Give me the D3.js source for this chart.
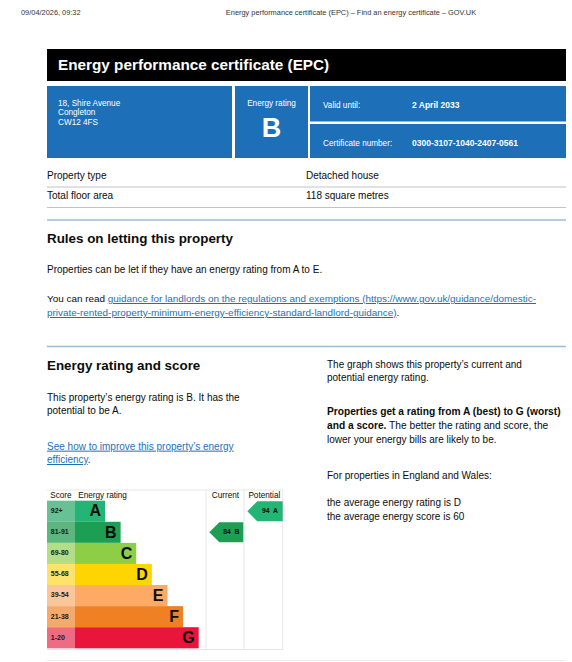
<!DOCTYPE html>
<html>
<head>
<meta charset="utf-8">
<script src="https://cdn.jsdelivr.net/npm/d3@7"></script>
<style>
  body { margin: 0; background: #fff; }
  svg { display: block; font-family: "Liberation Sans", Arial, sans-serif; }
</style>
</head>
<body>
<script>
// rating bands, A (best) to G (worst)
var bands = ["A", "B", "C", "D", "E", "F", "G"];
var scoreRanges = ["92+", "81-91", "69-80", "55-68", "39-54", "21-38", "1-20"];
var currentScore = 84, currentBand = "B";
var potentialScore = 94, potentialBand = "A";

var columns = ["Score", "Energy rating", "Current", "Potential"];
var propertyRows = [["Property type", "Detached house"], ["Total floor area", "118 square metres"]];
var addressLines = ["18, Shire Avenue", "Congleton", "CW12 4FS"];

var width = 572, height = 662;
var svg = d3.select("body").append("svg")
    .attr("width", width)
    .attr("height", height);

function txt(x, y, s, size, opts) {
  opts = opts || {};
  return svg.append("text")
    .attr("x", x).attr("y", y)
    .attr("font-size", size)
    .attr("font-weight", opts.bold ? "bold" : null)
    .attr("fill", opts.fill || "#0b0c0c")
    .attr("text-anchor", opts.anchor || "start")
    .attr("dominant-baseline", "middle")
    .text(s);
}

var body = 10;

// print header
txt(21, 13, "09/04/2026, 09:32", 7.4, {fill: "#333"});
txt(351, 13, "Energy performance certificate (EPC) \u2013 Find an energy certificate \u2013 GOV.UK", 7.4, {fill: "#333", anchor: "middle"});

// title band
svg.append("rect").attr("x", 47).attr("y", 49).attr("width", 519).attr("height", 32).attr("fill", "#000");
txt(58, 66, "Energy performance certificate (EPC)", 15.3, {bold: true, fill: "#fff"});

// blue summary box
var blue = "#1d70b8";
svg.append("rect").attr("x", 47).attr("y", 86).attr("width", 185).attr("height", 72).attr("fill", blue);
svg.append("rect").attr("x", 235).attr("y", 86).attr("width", 73).attr("height", 72).attr("fill", blue);
svg.append("rect").attr("x", 310).attr("y", 86).attr("width", 256).attr("height", 35.5).attr("fill", blue);
svg.append("rect").attr("x", 310).attr("y", 124).attr("width", 256).attr("height", 34).attr("fill", blue);
addressLines.forEach(function(l, i) { txt(58, 103.5 + i * 9.8, l, 8.2, {fill: "#fff"}); });
txt(271.5, 104, "Energy rating", 8.2, {fill: "#fff", anchor: "middle"});
txt(271.5, 130, currentBand, 27, {fill: "#fff", anchor: "middle", bold: true});
txt(323, 106, "Valid until:", 8.2, {fill: "#fff"});
txt(412, 106, "2 April 2033", 8.5, {fill: "#fff", bold: true});
txt(323, 144, "Certificate number:", 8.2, {fill: "#fff"});
txt(412, 144, "0300-3107-1040-2407-0561", 8.5, {fill: "#fff", bold: true});

// property table
propertyRows.forEach(function(r, i) {
  var y = 176 + i * 20.5;
  txt(47, y, r[0], body);
  txt(306, y, r[1], body);
  svg.append("line").attr("x1", 47).attr("x2", 566).attr("y1", y + 11).attr("y2", y + 11)
    .attr("stroke", "#b1b4b6").attr("stroke-width", 0.8);
});
svg.append("line").attr("x1", 47).attr("x2", 566).attr("y1", 220).attr("y2", 220)
  .attr("stroke", "#9cbcd6").attr("stroke-width", 1.6);

// rules on letting
txt(47, 239, "Rules on letting this property", 13.4, {bold: true});
txt(47, 270, "Properties can be let if they have an energy rating from A to E.", body);
var t1 = txt(47, 299, "You can read ", 9.92);
t1.append("tspan").attr("fill", blue).attr("text-decoration", "underline")
  .text("guidance for landlords on the regulations and exemptions (https://www.gov.uk/guidance/domestic-");
var t2 = txt(47, 313, "", 9.92);
t2.append("tspan").attr("fill", blue).attr("text-decoration", "underline")
  .text("private-rented-property-minimum-energy-efficiency-standard-landlord-guidance)");
t2.append("tspan").text(".");
svg.append("line").attr("x1", 47).attr("x2", 566).attr("y1", 346.5).attr("y2", 346.5)
  .attr("stroke", "#9cbcd6").attr("stroke-width", 1.6);

// energy rating and score - left text
txt(47, 366, "Energy rating and score", 13.4, {bold: true});
txt(47, 398, "This property\u2019s energy rating is B. It has the", body);
txt(47, 411, "potential to be A.", body);
txt(47, 447, "See how to improve this property\u2019s energy", body, {fill: blue}).attr("text-decoration", "underline");
var t3 = txt(47, 460, "", body);
t3.append("tspan").attr("fill", blue).attr("text-decoration", "underline").text("efficiency");
t3.append("tspan").text(".");

// right text
txt(327, 365, "The graph shows this property\u2019s current and", body);
txt(327, 378, "potential energy rating.", body);
txt(327, 412, "Properties get a rating from A (best) to G (worst)", 10.2, {bold: true});
var t4 = txt(327, 426, "and a score.", 10.2, {bold: true});
t4.append("tspan").attr("font-weight", "normal").text(" The better the rating and score, the");
txt(327, 440, "lower your energy bills are likely to be.", body);
txt(327, 476, "For properties in England and Wales:", body);
txt(327, 503, "the average energy rating is D", body);
txt(327, 517, "the average energy score is 60", body);

// ---- EPC graph ----
var bandColor = d3.scaleOrdinal().domain(bands)
  .range(["#22b573", "#1c9f52", "#8dce46", "#ffd500", "#fcaa65", "#ef8023", "#e9153b"]);
var scoreColor = d3.scaleOrdinal().domain(bands)
  .range(["#66c195", "#5cb67e", "#b3dd86", "#ffe26a", "#fdc59a", "#f4aa6c", "#ef6a83"]);

var y = d3.scaleBand().domain(bands).range([500.7, 648.3]).paddingInner(0);
var barEnd = d3.scaleLinear().domain([0, bands.length - 1]).range([105, 198.7]);
var colX = d3.scaleOrdinal().domain(columns).range([47, 75, 206, 244]);
var chartRight = 282.7, headerTop = 490;

var grey = "#dcdcdc";
svg.append("line").attr("x1", 47).attr("x2", chartRight).attr("y1", headerTop).attr("y2", headerTop).attr("stroke", grey).attr("stroke-width", 0.7);
svg.append("line").attr("x1", 47).attr("x2", chartRight).attr("y1", 649.5).attr("y2", 649.5).attr("stroke", grey).attr("stroke-width", 0.7);
[colX("Current"), colX("Potential"), chartRight].forEach(function(x) {
  svg.append("line").attr("x1", x).attr("x2", x).attr("y1", headerTop).attr("y2", 649.5).attr("stroke", grey).attr("stroke-width", 0.7);
});

var colCentre = {"Current": (colX("Current") + colX("Potential")) / 2 + 0.5, "Potential": (colX("Potential") + chartRight) / 2 + 1};
svg.selectAll("text.col").data(columns).enter().append("text")
  .attr("class", "col")
  .attr("x", function(d, i) { return i < 2 ? colX(d) + 3.2 : colCentre[d]; })
  .attr("y", 495.5)
  .attr("font-size", 8.2)
  .attr("fill", "#0b0c0c")
  .attr("text-anchor", function(d, i) { return i < 2 ? "start" : "middle"; })
  .attr("dominant-baseline", "middle")
  .text(function(d) { return d; });

var rows = svg.selectAll("g.band").data(bands).enter().append("g").attr("class", "band");
rows.append("rect")
  .attr("x", colX("Score"))
  .attr("y", function(d) { return y(d); })
  .attr("width", colX("Energy rating") - colX("Score"))
  .attr("height", y.bandwidth())
  .attr("fill", function(d) { return scoreColor(d); });
rows.append("rect")
  .attr("x", colX("Energy rating"))
  .attr("y", function(d) { return y(d); })
  .attr("width", function(d, i) { return barEnd(i) - colX("Energy rating"); })
  .attr("height", y.bandwidth())
  .attr("fill", function(d) { return bandColor(d); });
rows.append("text")
  .attr("x", colX("Score") + 3.8)
  .attr("y", function(d) { return y(d) + y.bandwidth() / 2; })
  .attr("font-size", 7)
  .attr("font-weight", "bold")
  .attr("fill", "#1a1a1a")
  .attr("dominant-baseline", "middle")
  .text(function(d, i) { return scoreRanges[i]; });
rows.append("text")
  .attr("x", function(d, i) { return barEnd(i) - 4; })
  .attr("y", function(d) { return y(d) + y.bandwidth() / 2 + 1; })
  .attr("font-size", 16)
  .attr("font-weight", "bold")
  .attr("fill", "#0b0c0c")
  .attr("text-anchor", "end")
  .attr("dominant-baseline", "middle")
  .text(function(d) { return d; });

function arrow(col, band, score) {
  var x0 = colX(col) + 3.3, x1 = col === "Current" ? colX("Potential") - 0.7 : chartRight;
  var top = y(band) + 0.5, h = y.bandwidth() - 1, notch = 10;
  svg.append("polygon")
    .attr("points", [[x0, top + h / 2], [x0 + notch, top], [x1, top], [x1, top + h], [x0 + notch, top + h]].join(" "))
    .attr("fill", bandColor(band));
  svg.append("text")
    .attr("x", x0 + notch + (x1 - x0 - notch) / 2)
    .attr("y", top + h / 2)
    .attr("font-size", 6.8)
    .attr("font-weight", "bold")
    .attr("fill", "#0b0c0c")
    .attr("text-anchor", "middle")
    .attr("dominant-baseline", "middle")
    .attr("xml:space", "preserve")
    .text(score + "  " + band);
}
arrow("Current", currentBand, currentScore);
arrow("Potential", potentialBand, potentialScore);

// bottom rule
svg.append("line").attr("x1", 47).attr("x2", 566).attr("y1", 660.5).attr("y2", 660.5)
  .attr("stroke", "#e8e8e8").attr("stroke-width", 0.8);
</script>
</body>
</html>
